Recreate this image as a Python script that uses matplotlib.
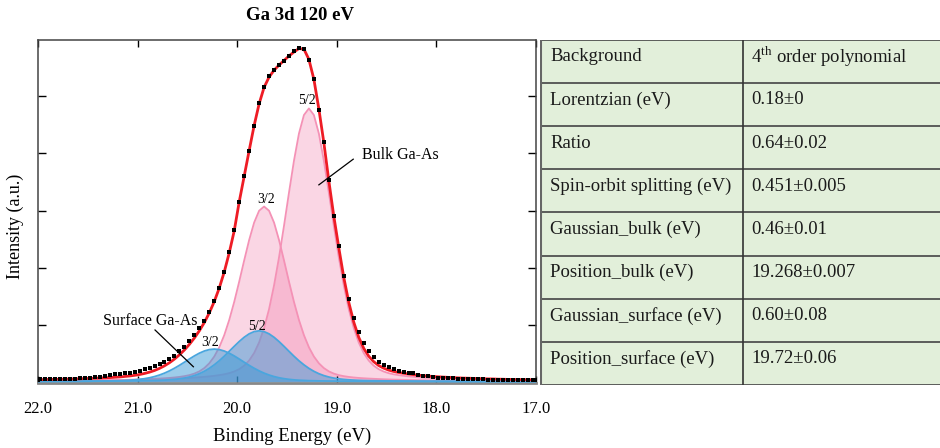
import numpy as np
import matplotlib.pyplot as plt

plt.rcParams['font.family'] = 'Liberation Serif'
plt.rcParams['mathtext.fontset'] = 'custom'
plt.rcParams['mathtext.rm'] = 'Liberation Serif'

# binding energy grid (eV), 0.05 eV steps
energy = [22.0, 21.98, 21.93, 21.88, 21.83, 21.78, 21.73, 21.68, 21.63, 21.58, 21.53,
          21.48, 21.43, 21.38, 21.33, 21.28, 21.23, 21.18, 21.13, 21.08, 21.03,
          20.98, 20.93, 20.88, 20.83, 20.78, 20.73, 20.68, 20.63, 20.58, 20.53,
          20.48, 20.43, 20.38, 20.33, 20.28, 20.23, 20.18, 20.13, 20.08, 20.03,
          19.98, 19.93, 19.88, 19.83, 19.78, 19.73, 19.68, 19.63, 19.58, 19.53,
          19.48, 19.43, 19.38, 19.33, 19.28, 19.23, 19.18, 19.13, 19.08, 19.03,
          18.98, 18.93, 18.88, 18.83, 18.78, 18.73, 18.68, 18.63, 18.58, 18.53,
          18.48, 18.43, 18.38, 18.33, 18.28, 18.23, 18.18, 18.13, 18.08, 18.03,
          17.98, 17.93, 17.88, 17.83, 17.78, 17.73, 17.68, 17.63, 17.58, 17.53,
          17.48, 17.43, 17.38, 17.33, 17.28, 17.23, 17.18, 17.13, 17.08, 17.03, 17.0]

# fitted components (a.u.)
bulk_52 = [.013, .013, .014, .014, .015, .015, .016, .017, .017, .018, .019,
           .020, .021, .022, .023, .024, .025, .026, .028, .029, .031,
           .033, .035, .037, .039, .042, .045, .048, .051, .055, .059,
           .064, .070, .076, .083, .091, .101, .113, .128, .148, .177,
           .218, .280, .370, .501, .686, .939, 1.271, 1.687, 2.179, 2.733,
           3.314, 3.873, 4.349, 4.674, 4.790, 4.674, 4.349, 3.873, 3.314, 2.733,
           2.179, 1.687, 1.271, .939, .686, .501, .370, .280, .218, .177,
           .148, .128, .113, .101, .091, .083, .076, .070, .064, .059,
           .055, .051, .048, .045, .042, .039, .037, .035, .033, .031,
           .029, .028, .026, .025, .024, .023, .022, .021, .020, .019, .019]
bulk_32 = [.012, .012, .013, .013, .014, .015, .015, .016, .017, .018, .019,
           .020, .021, .022, .024, .025, .027, .029, .031, .033, .035,
           .038, .041, .045, .049, .053, .058, .064, .072, .082, .095,
           .113, .140, .179, .237, .321, .440, .602, .814, 1.081, 1.397,
           1.752, 2.124, 2.482, 2.788, 2.996, 3.070, 2.996, 2.788, 2.482, 2.124,
           1.752, 1.397, 1.081, .814, .602, .440, .321, .237, .179, .140,
           .113, .095, .082, .072, .064, .058, .053, .049, .045, .041,
           .038, .035, .033, .031, .029, .027, .025, .024, .022, .021,
           .020, .019, .018, .017, .016, .015, .015, .014, .013, .013,
           .012, .012, .011, .011, .010, .010, .009, .009, .009, .008, .008]
surf_52 = [.004, .004, .005, .005, .005, .005, .006, .006, .006, .006, .007,
           .007, .008, .008, .009, .009, .010, .010, .011, .012, .013,
           .014, .016, .017, .019, .022, .026, .031, .038, .048, .061,
           .080, .105, .138, .180, .232, .294, .365, .445, .531, .618,
           .702, .777, .837, .876, .890, .876, .837, .777, .702, .618,
           .531, .445, .365, .294, .232, .180, .138, .105, .080, .061,
           .048, .038, .031, .026, .022, .019, .017, .016, .014, .013,
           .012, .011, .010, .010, .009, .009, .008, .008, .007, .007,
           .006, .006, .006, .006, .005, .005, .005, .005, .004, .004,
           .004, .004, .004, .004, .003, .003, .003, .003, .003, .003, .003]
surf_32 = [.004, .004, .005, .005, .005, .006, .006, .006, .007, .007, .008,
           .008, .009, .010, .011, .012, .014, .016, .020, .024, .031,
           .039, .051, .067, .088, .115, .148, .188, .234, .285, .340,
           .396, .450, .498, .536, .561, .570, .561, .536, .498, .450,
           .396, .340, .285, .234, .188, .148, .115, .088, .067, .051,
           .039, .030, .024, .020, .016, .014, .012, .011, .010, .009,
           .008, .008, .007, .007, .006, .006, .006, .005, .005, .005,
           .004, .004, .004, .004, .004, .003, .003, .003, .003, .003,
           .003, .003, .002, .002, .002, .002, .002, .002, .002, .002,
           .002, .002, .001, .001, .001, .001, .001, .001, .001, .001, .001]

# total fit (red) and measured points (black)
fit_total = [.033, .033, .037, .037, .039, .041, .043, .045, .047, .049, .053,
             .055, .059, .062, .067, .070, .076, .081, .090, .098, .110,
             .124, .143, .166, .195, .232, .277, .331, .395, .470, .555,
             .653, .765, .891, 1.036, 1.205, 1.405, 1.641, 1.923, 2.258, 2.642,
             3.15, 3.60, 4.05, 4.49, 4.87, 5.16, 5.34, 5.46, 5.55, 5.63,
             5.71, 5.78, 5.84, 5.83, 5.65, 5.30, 4.78, 4.19, 3.52, 2.90,
             2.348, 1.828, 1.391, 1.044, .778, .584, .446, .350, .282, .236,
             .202, .178, .160, .146, .133, .122, .112, .105, .096, .090,
             .084, .079, .074, .070, .065, .061, .059, .056, .052, .050,
             .047, .046, .042, .041, .038, .037, .035, .034, .033, .031, .031]
measured = [.036, .038, .040, .043, .044, .047, .049, .052, .054, .058, .062,
            .066, .072, .082, .097, .110, .126, .131, .150, .158, .170,
            .194, .213, .236, .265, .302, .347, .401, .455, .530, .615,
            .703, .815, .931, 1.066, 1.225, 1.415, 1.641, 1.930, 2.270, 2.660,
            3.150, 3.610, 4.050, 4.480, 4.880, 5.170, 5.360, 5.470, 5.560, 5.620,
            5.710, 5.790, 5.850, 5.840, 5.640, 5.310, 4.770, 4.200, 3.530, 2.910,
            2.370, 1.860, 1.440, 1.120, .870, .674, .536, .430, .352, .296,
            .252, .218, .190, .176, .153, .142, .122, .105, .090, .078,
            .070, .066, .060, .057, .051, .048, .045, .043, .039, .037,
            .034, .033, .030, .029, .026, .025, .024, .023, .022, .021, .020]

table_params = ['Background', 'Lorentzian (eV)', 'Ratio', 'Spin-orbit splitting (eV)',
                'Gaussian_bulk (eV)', 'Position_bulk (eV)', 'Gaussian_surface (eV)',
                'Position_surface (eV)']
table_values = [r'4$^{\mathrm{th}}$ order polynomial', '0.18\u00b10', '0.64\u00b10.02',
                '0.451\u00b10.005', '0.46\u00b10.01', '19.268\u00b10.007',
                '0.60\u00b10.08', '19.72\u00b10.06']

pink_fill = '#f06ea0'
pink_edge = '#f492b6'
blue_fill = '#3d9ad6'
blue_edge = '#4aa6de'

fig = plt.figure(figsize=(9.4, 4.48), dpi=100)
ax = fig.add_axes([38 / 940, 1 - 383.3 / 448, 498 / 940, 343.3 / 448])

for comp in (bulk_52, bulk_32):
    ax.fill_between(energy, 0, comp, color=pink_fill, alpha=0.28, lw=0, zorder=1)
    ax.plot(energy, comp, color=pink_edge, lw=1.3, zorder=2)
for comp in (surf_32, surf_52):
    ax.fill_between(energy, 0, comp, color=blue_fill, alpha=0.5, lw=0, zorder=3)
    ax.plot(energy, comp, color=blue_edge, lw=1.3, zorder=4)

ax.plot(energy, fit_total, color='#ee1c25', lw=2, zorder=5)
ax.plot(energy, measured, 's', color='black', ms=2.2, mew=0, zorder=6)

# peak labels
ax.text(19.30, 4.93, '5/2', ha='center', va='center', fontsize=10)
ax.text(19.71, 3.20, '3/2', ha='center', va='center', fontsize=10)
ax.text(19.80, 0.96, '5/2', ha='center', va='center', fontsize=10)
ax.text(20.27, 0.68, '3/2', ha='center', va='center', fontsize=10)
ax.text(18.75, 3.97, 'Bulk Ga-As', ha='left', va='center', fontsize=11.5)
ax.plot([18.835, 19.18], [3.90, 3.45], color='black', lw=0.9, zorder=7)
ax.text(20.875, 1.06, 'Surface Ga-As', ha='center', va='center', fontsize=11.5)
ax.plot([20.825, 20.44], [0.905, 0.26], color='black', lw=0.9, zorder=7)

ax.set_xlim(22.0, 17.0)
ax.set_ylim(-0.03, 5.99)
ax.set_xticks([22, 21, 20, 19, 18, 17])
ax.set_xticklabels(['22.0', '21.0', '20.0', '19.0', '18.0', '17.0'])
ax.set_yticks([1, 2, 3, 4, 5])
ax.set_yticklabels([])
ax.tick_params(axis='x', direction='in', top=True, length=5, width=1, labelsize=12, pad=13)
ax.tick_params(axis='y', direction='in', right=True, length=6, width=1)
for s in ax.spines.values():
    s.set_color('#444444')
    s.set_linewidth(1.1)
ax.spines['bottom'].set_color('#888888')
ax.spines['bottom'].set_linewidth(2)

fig.text(300 / 940, 1 - 15 / 448, 'Ga 3d 120 eV', ha='center', va='center',
         fontsize=13.5, fontweight='bold')
fig.text(292 / 940, 1 - 436 / 448, 'Binding Energy (eV)', ha='center', va='center', fontsize=13.5)
fig.text(15 / 940, 1 - 226 / 448, 'Intensity (a.u.)', ha='center', va='center',
         rotation=90, fontsize=13)

# parameter table
tab = fig.add_axes([540 / 940, 1 - 385 / 448, 402 / 940, 345 / 448])
tab.set_xlim(0, 402)
tab.set_ylim(345, 0)
tab.axis('off')
row_h = 345 / len(table_params)
tab.add_patch(plt.Rectangle((0, 0), 402, 345, facecolor='#e2efda', edgecolor='none'))
for i in range(len(table_params) + 1):
    tab.plot([0, 402], [i * row_h, i * row_h], color='#444444', lw=1.2)
tab.plot([0, 0], [0, 345], color='#666666', lw=2.2)
tab.plot([202.7, 202.7], [0, 345], color='#333333', lw=1.2)
for i, (p, v) in enumerate(zip(table_params, table_values)):
    y = i * row_h + 0.39 * row_h
    tab.text(10, y, p, ha='left', va='center', fontsize=13.5, color='#1a1a1a')
    tab.text(211, y, v, ha='left', va='center', fontsize=13.5, color='#1a1a1a')

fig.savefig('out.png', dpi=100)
